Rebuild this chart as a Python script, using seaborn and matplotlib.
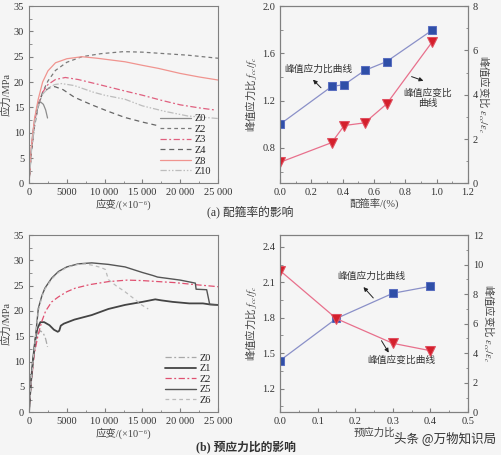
import numpy as np
import matplotlib
matplotlib.use("Agg")
import matplotlib.pyplot as plt
from matplotlib.ticker import MultipleLocator
import seaborn as sns

sns.set_style("ticks")
plt.rcParams['font.family'] = ['Liberation Serif', 'Noto Sans CJK SC', 'DejaVu Sans']
plt.rcParams['mathtext.fontset'] = 'stix'
plt.rcParams['font.size'] = 7.5

CJK = ['Noto Sans CJK SC', 'DejaVu Sans']

# ---- (a) stress-strain curves, stirrup ratio ----
a_labels = ['Z0', 'Z2', 'Z3', 'Z4', 'Z8', 'Z10']
a_z0_strain = [0, 200, 500, 800, 1100, 1500, 1900, 2200, 2450]
a_z0_stress = [0, 5, 10, 13, 15.2, 16.1, 15.6, 14.5, 12.9]
a_z2_strain = [0, 300, 700, 1200, 1800, 2500, 3500, 5000, 7000, 9500, 12500, 15000, 18000, 21000, 25000]
a_z2_stress = [0, 6, 11, 15, 18, 20.2, 22.3, 23.9, 25, 25.6, 26, 25.9, 25.6, 25.3, 24.7]
a_z3_strain = [0, 300, 700, 1200, 1800, 2500, 3500, 4800, 6500, 9000, 12500, 15000, 17500, 20000, 22500, 24500]
a_z3_stress = [0, 6.5, 12, 15.5, 18, 19.5, 20.5, 20.9, 20.5, 19.6, 18.3, 17.4, 16.4, 15.5, 14.9, 14.5]
a_z4_strain = [0, 300, 700, 1200, 1800, 2600, 3400, 4500, 6000, 8300, 10500, 12700, 15000, 17300]
a_z4_stress = [0, 6, 11.5, 15.5, 17.8, 18.8, 19.1, 18.5, 17, 15.5, 14.2, 13, 12.1, 11.3]
a_z8_strain = [0, 300, 700, 1200, 1800, 2500, 3500, 5000, 7000, 9000, 12700, 15000, 17100, 20000, 22500, 25000]
a_z8_stress = [0, 7, 12.5, 16.5, 20, 22.2, 23.8, 24.6, 25, 24.7, 24, 23.3, 22.7, 21.7, 21, 20.4]
a_z10_strain = [0, 300, 700, 1200, 1800, 2600, 3400, 4300, 6000, 8500, 10000, 12700, 15000, 18000, 21000, 25000]
a_z10_stress = [0, 6, 11.5, 15.3, 17.6, 18.9, 19.5, 19.7, 19.3, 18, 17.4, 16.6, 15.3, 14.2, 13.3, 12.8]

# ---- (a) peak ratios vs stirrup ratio ----
rho = [0.0, 0.33, 0.41, 0.54, 0.68, 0.97]
a_stress_ratio = [1.0, 1.32, 1.335, 1.455, 1.53, 1.795]
a_strain_ratio = [0.95, 1.84, 2.61, 2.73, 3.58, 6.37]

# ---- (b) stress-strain curves, prestress ratio ----
b_labels = ['Z0', 'Z1', 'Z2', 'Z5', 'Z6']
b_z1_strain = [0, 200, 500, 800, 1100, 1500, 2000, 2700, 3300, 3800, 4000, 4200, 4600, 6000, 8300,
               10500, 12700, 15000, 16700, 17500, 19000, 21200, 23000, 23900, 25000]
b_z1_stress = [0, 5, 10, 14, 16.5, 17.8, 17.8, 17.2, 16.3, 15.9, 16.1, 17.1, 17.5, 18.3, 19.2,
               20.4, 21.2, 21.8, 22.3, 22.1, 21.8, 21.5, 21.5, 21.3, 21.2]
b_z2_strain = [0, 300, 700, 1200, 1700, 2200, 3000, 3900, 5000, 6100, 8000, 10500, 13000, 15000, 19300, 22000, 25000]
b_z2_stress = [0, 6, 11.5, 15.3, 18, 20, 21.8, 22.8, 23.8, 24.5, 25.2, 25.8, 26.1, 26, 25.6, 25.2, 24.8]
b_z5_strain = [0, 300, 700, 1230, 1700, 2100, 3000, 3900, 5000, 6500, 8300, 10500, 12700, 15000, 16400,
               17000, 20000, 22000, 22100, 23500, 23900, 25000]
b_z5_stress = [0, 6.5, 12.5, 20.5, 23, 24.5, 26.5, 27.8, 28.7, 29.3, 29.5, 29.2, 28.7, 27.6, 27.0,
               26.7, 26.1, 25.5, 24.3, 24.2, 21.3, 21.2]
b_z6_strain = [0, 300, 700, 1230, 1700, 2100, 3000, 3900, 5000, 6500, 7400, 8500, 9500, 10100, 10500,
               11500, 12700, 14000, 14900, 15770]
b_z6_stress = [0, 6.5, 12.5, 20, 22.8, 24.3, 26.3, 27.6, 28.6, 29.2, 29.3, 29, 28.6, 28.2, 26.2,
               25, 23.8, 22.3, 21.2, 20.4]

# ---- (b) peak ratios vs prestress ratio ----
prestress = [0.0, 0.15, 0.3, 0.4]
b_stress_ratio = [1.438, 1.794, 2.007, 2.066]
b_strain_ratio = [9.59, 6.34, 4.67, 4.17]

BG = '#f5f5f5'
SPINE = '#808080'
BLUE_LINE = '#8a90c8'
BLUE_MARK = '#2f4fa8'
RED_LINE = '#e8708c'
RED_MARK = '#d4202c'


def style_axes(ax):
    ax.set_facecolor(BG)
    for s in ax.spines.values():
        s.set_color(SPINE)
        s.set_linewidth(0.8)
        s.set_visible(True)
    ax.tick_params(which='both', direction='in', color=SPINE, labelcolor='#333333', labelsize=7.5)
    ax.tick_params(which='major', length=3)
    ax.tick_params(which='minor', length=1.8)


def curve(ax, x, y, label, color, ls='-', lw=0.9):
    sns.lineplot(x=x, y=y, ax=ax, color=color, linestyle=ls, linewidth=lw,
                 sort=False, estimator=None, label=label)


def stress_strain_axes(ax):
    style_axes(ax)
    ax.set_xlim(0, 25000)
    ax.set_ylim(0, 35)
    ax.xaxis.set_minor_locator(MultipleLocator(2500))
    ax.yaxis.set_major_locator(MultipleLocator(5))
    ax.yaxis.set_minor_locator(MultipleLocator(2.5))
    ax.set_xticks([0, 5000, 10000, 15000, 20000, 25000])
    ax.set_xticklabels(['0', '5000', '10 000', '15 000', '20 000', '25 000'])
    ax.set_xlabel('应变/(×10⁻⁶)', fontsize=7.5, color='#444444', labelpad=1)
    ax.set_ylabel('应力/MPa', fontsize=7.5, color='#444444', labelpad=2)
    ax.legend(loc='lower right', frameon=False, fontsize=7.5, handlelength=3.0,
              labelspacing=0.12, handletextpad=0.3, borderaxespad=0.3)


def ratio_axes(ax, ax2, xmax, xmaj, xmin, ylo, yhi, ymaj, ymin, r_hi):
    style_axes(ax)
    style_axes(ax2)
    ax.set_xlim(0, xmax)
    ax.set_ylim(ylo, yhi)
    ax2.set_ylim(0, r_hi)
    ax.xaxis.set_major_locator(MultipleLocator(xmaj))
    ax.xaxis.set_minor_locator(MultipleLocator(xmin))
    ax.yaxis.set_major_locator(MultipleLocator(ymaj))
    ax.yaxis.set_minor_locator(MultipleLocator(ymin))
    ax2.yaxis.set_major_locator(MultipleLocator(2))
    ax2.yaxis.set_minor_locator(MultipleLocator(1))
    ax.set_ylabel('峰值应力比 $f_{cc}/f_c$', fontsize=7.5, color='#444444', labelpad=2, family=CJK)
    ax2.set_ylabel('峰值应变比 $\\varepsilon_{cc}/\\varepsilon_c$', fontsize=7.5, color='#444444',
                   rotation=270, labelpad=10, family=CJK)


fig = plt.figure(figsize=(5.02, 4.55), dpi=100, facecolor=BG)
ax_a = fig.add_axes([0.0578, 0.597, 0.3765, 0.3897])
ax_ar = fig.add_axes([0.5578, 0.597, 0.3745, 0.3897])
ax_b = fig.add_axes([0.0578, 0.0938, 0.3765, 0.3897])
ax_br = fig.add_axes([0.5578, 0.0938, 0.3745, 0.3897])

# (a) left
curve(ax_a, a_z0_strain, a_z0_stress, a_labels[0], '#8c8c8c', '-')
curve(ax_a, a_z2_strain, a_z2_stress, a_labels[1], '#7a7a7a', (0, (3, 2.5)))
curve(ax_a, a_z3_strain, a_z3_stress, a_labels[2], '#e0607f', (0, (5, 2, 1.5, 2)))
curve(ax_a, a_z4_strain, a_z4_stress, a_labels[3], '#666666', (0, (4, 3)))
curve(ax_a, a_z8_strain, a_z8_stress, a_labels[4], '#f0948f', '-')
curve(ax_a, a_z10_strain, a_z10_stress, a_labels[5], '#bdbdbd', (0, (5, 1.5, 1.2, 1.5, 1.2, 1.5)))
stress_strain_axes(ax_a)

# (a) right
ax_ar2 = ax_ar.twinx()
sns.lineplot(x=rho, y=a_stress_ratio, ax=ax_ar, color=BLUE_LINE, linewidth=0.9,
             marker='s', markersize=6, markerfacecolor=BLUE_MARK, markeredgecolor='#5a6ec0')
sns.lineplot(x=rho, y=a_strain_ratio, ax=ax_ar2, color=RED_LINE, linewidth=0.9,
             marker='v', markersize=7, markerfacecolor=RED_MARK, markeredgecolor='#e05060')
ratio_axes(ax_ar, ax_ar2, 1.2, 0.2, 0.1, 0.5, 2.0, 0.4, 0.2, 8)
ax_ar.set_xlabel('配箍率/(%)', fontsize=7.5, color='#444444', labelpad=1)
ax_ar.annotate('', xy=(0.198, 1.394), xytext=(0.274, 1.292),
               arrowprops=dict(arrowstyle='-|>', color='#222222', lw=0.7, mutation_scale=6))
ax_ar.text(0.243, 1.462, '峰值应力比曲线', fontsize=7, ha='center', va='center', color='#333333')
ax_ar.annotate('', xy=(0.932, 1.360), xytext=(0.823, 1.411),
               arrowprops=dict(arrowstyle='-|>', color='#222222', lw=0.7, mutation_scale=6))
ax_ar.text(0.945, 1.22, '峰值应变比\n曲线', fontsize=7, ha='center', va='center',
           color='#333333', linespacing=1.1)

# (b) left
curve(ax_b, a_z0_strain, a_z0_stress, b_labels[0], '#a8a8a8', (0, (5, 2, 1.5, 2)))
curve(ax_b, b_z1_strain, b_z1_stress, b_labels[1], '#444444', '-', 1.3)
curve(ax_b, b_z2_strain, b_z2_stress, b_labels[2], '#e05070', (0, (5, 2, 1.5, 2)))
curve(ax_b, b_z5_strain, b_z5_stress, b_labels[3], '#555555', '-', 1.0)
curve(ax_b, b_z6_strain, b_z6_stress, b_labels[4], '#bbbbbb', (0, (3, 2.5)))
stress_strain_axes(ax_b)

# (b) right
ax_br2 = ax_br.twinx()
sns.lineplot(x=prestress, y=b_stress_ratio, ax=ax_br, color=BLUE_LINE, linewidth=0.9,
             marker='s', markersize=6, markerfacecolor=BLUE_MARK, markeredgecolor='#5a6ec0')
sns.lineplot(x=prestress, y=b_strain_ratio, ax=ax_br2, color=RED_LINE, linewidth=0.9,
             marker='v', markersize=7, markerfacecolor=RED_MARK, markeredgecolor='#e05060')
ratio_axes(ax_br, ax_br2, 0.5, 0.1, 0.05, 1.0, 2.5, 0.3, 0.15, 12)
ax_br.set_xlabel('预应力比', fontsize=7.5, color='#444444', labelpad=1)
ax_br.annotate('', xy=(0.217, 2.077), xytext=(0.253, 1.950),
               arrowprops=dict(arrowstyle='-|>', color='#222222', lw=0.7, mutation_scale=6))
ax_br.text(0.242, 2.153, '峰值应力比曲线', fontsize=7, ha='center', va='center', color='#333333')
ax_br.annotate('', xy=(0.293, 1.485), xytext=(0.266, 1.626),
               arrowprops=dict(arrowstyle='-|>', color='#222222', lw=0.7, mutation_scale=6))
ax_br.text(0.324, 1.442, '峰值应变比曲线', fontsize=7, ha='center', va='center', color='#333333')

fig.text(0.498, 0.534, '(a) 配箍率的影响', fontsize=8.5, ha='center', va='center', color='#333333')
fig.text(0.490, 0.017, '(b) 预应力比的影响', fontsize=8.5, ha='center', va='center',
         color='#333333', fontweight='bold')
fig.text(0.988, 0.037, '头条 @万物知识局', fontsize=9, ha='right', va='center',
         color='#333333', family=CJK)

fig.savefig('out.png', dpi=100, facecolor=BG)
